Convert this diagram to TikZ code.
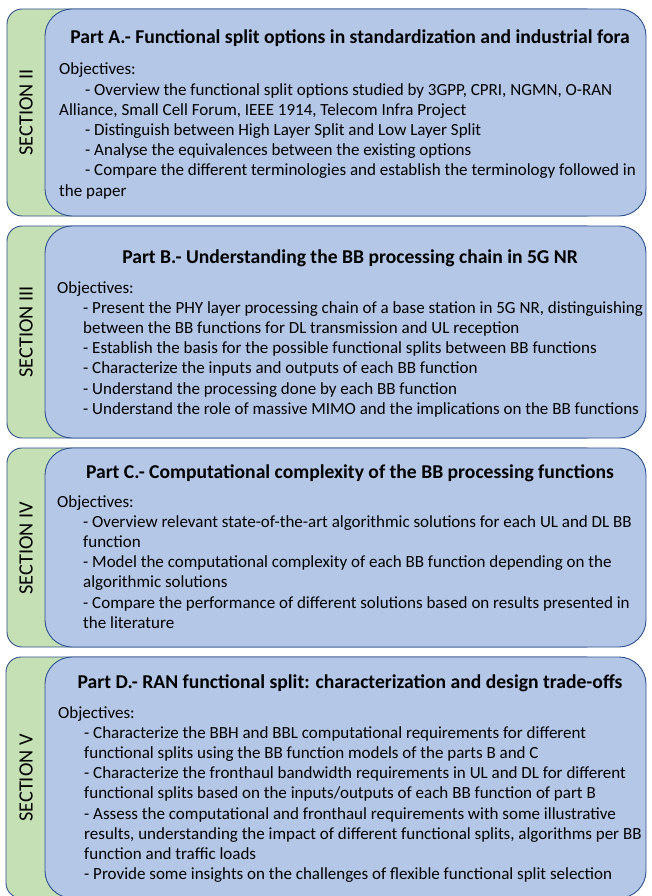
\documentclass[tikz,border=0pt]{standalone}
\usepackage{fontspec}
\setmainfont{Carlito}

\definecolor{secgreen}{HTML}{C5E0B4}
\definecolor{partblue}{HTML}{B4C7E7}
\definecolor{edgeblue}{HTML}{2F528F}

% stacked lines, baseline of the block = baseline of its first line
\newcommand{\oblines}[1]{\vtop{\baselineskip=20.2pt\lineskiplimit=-20pt\halign{##\hfil\cr#1\crcr}}}
\newcommand{\ind}{\kern26pt}

\begin{document}
\begin{tikzpicture}[x=1pt,y=-1pt,
  secbox/.style={draw=edgeblue, fill=secgreen, line width=0.9pt, rounded corners=15pt},
  partbox/.style={draw=edgeblue, fill=partblue, line width=0.9pt, rounded corners=27pt},
  seclabel/.style={rotate=90, inner sep=0pt, font=\fontsize{20.3}{23}\selectfont},
  parttitle/.style={anchor=base, inner sep=0pt, font=\bfseries\fontsize{19.6}{22}\selectfont},
  objtext/.style={anchor=base west, inner sep=0pt, font=\fontsize{17}{20.2}\selectfont}]

\useasboundingbox (0,0) rectangle (651,896);
\fill[white] (0,0) rectangle (651,896);

% ---------- Part A / Section II ----------
\path[secbox] (7,9) rectangle (600,216);
\path[partbox] (45,9) rectangle (646,216);
\node[seclabel] (secA) at (26,112.5) {SECTION II};
\node[parttitle] (titleA) at (350,44) {Part A.- Functional split options in standardization and industrial fora};
\node[objtext] (objA) at (59,75) {\oblines{%
Objectives:\cr
\ind - Overview the functional split options studied by 3GPP, CPRI, NGMN, O-RAN\cr
Alliance, Small Cell Forum, IEEE 1914, Telecom Infra Project\cr
\ind - Distinguish between High Layer Split and Low Layer Split\cr
\ind - Analyse the equivalences between the existing options\cr
\ind - Compare the different terminologies and establish the terminology followed in\cr
the paper}};

% ---------- Part B / Section III ----------
\path[secbox] (7,226) rectangle (600,438);
\path[partbox] (45,226) rectangle (646,438);
\node[seclabel] (secB) at (26,332) {SECTION III};
\node[parttitle] (titleB) at (350,263) {Part B.- Understanding the BB processing chain in 5G NR};
\node[objtext] (objB) at (57,293) {\oblines{%
Objectives:\cr
\ind - Present the PHY layer processing chain of a base station in 5G NR, distinguishing\cr
\ind between the BB functions for DL transmission and UL reception\cr
\ind - Establish the basis for the possible functional splits between BB functions\cr
\ind - Characterize the inputs and outputs of each BB function\cr
\ind - Understand the processing done by each BB function\cr
\ind - Understand the role of massive MIMO and the implications on the BB functions}};

% ---------- Part C / Section IV ----------
\path[secbox] (7,448) rectangle (600,647);
\path[partbox] (45,448) rectangle (646,647);
\node[seclabel] (secC) at (26,548) {SECTION IV};
\node[parttitle] (titleC) at (350,478) {Part C.- Computational complexity of the BB processing functions};
\node[objtext] (objC) at (57,507) {\oblines{%
Objectives:\cr
\ind - Overview relevant state-of-the-art algorithmic solutions for each UL and DL BB\cr
\ind function\cr
\ind - Model the computational complexity of each BB function depending on the\cr
\ind algorithmic solutions\cr
\ind - Compare the performance of different solutions based on results presented in\cr
\ind the literature}};

% ---------- Part D / Section V ----------
\path[secbox] (6,657) rectangle (600,898);
\path[partbox] (45,657) rectangle (646,898);
\node[seclabel] (secD) at (26,778) {SECTION V};
\node[parttitle] (titleD) at (350,688) {Part D.- RAN functional split: characterization and design trade-offs};
\node[objtext] (objD) at (58,718) {\oblines{%
Objectives:\cr
\ind - Characterize the BBH and BBL computational requirements for different\cr
\ind functional splits using the BB function models of the parts B and C\cr
\ind - Characterize the fronthaul bandwidth requirements in UL and DL for different\cr
\ind functional splits based on the inputs/outputs of each BB function of part B\cr
\ind - Assess the computational and fronthaul requirements with some illustrative\cr
\ind results, understanding the impact of different functional splits, algorithms per BB\cr
\ind function and traffic loads\cr
\ind - Provide some insights on the challenges of flexible functional split selection}};

\end{tikzpicture}
\end{document}
